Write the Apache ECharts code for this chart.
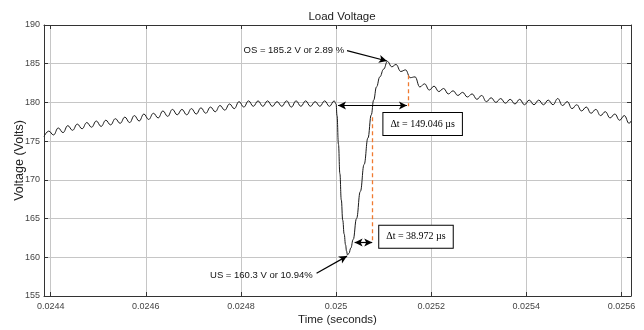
<!DOCTYPE html>
<html>
<head>
<meta charset="utf-8">
<title>Load Voltage</title>
<script src="https://cdn.jsdelivr.net/npm/echarts@6.0.0/dist/echarts.min.js"></script>
<style>
	html, body { margin: 0; padding: 0; background: #fff; }
	#chart { width: 644px; height: 330px; }
</style>
</head>
<body>
<div id="chart"></div>
<script>
// instant of the load step (s); times below are microseconds from it
const T_STEP = 0.025;

// steady ripple before the step
const beforeUs = [
	-614, -604, -594, -584, -574, -564, -554, -544, -534, -524,
	-514, -504, -494, -484, -474, -464, -454, -444, -434, -424,
	-414, -404, -394, -384, -374, -364, -354, -344, -334, -324,
	-314, -304, -294, -284, -274, -264, -254, -244, -234, -224,
	-214, -204, -194, -184, -174, -164, -154, -144, -134, -124,
	-114, -104, -94, -84, -74, -64, -54, -44, -34, -24,
	-14, -4
];
const beforeV = [
	175.6, 176.3, 175.8, 176.7, 176.1, 177.0, 176.4, 177.2, 176.6, 177.4,
	176.8, 177.6, 176.9, 177.7, 177.1, 177.9, 177.3, 178.1, 177.4, 178.3,
	177.6, 178.5, 177.8, 178.6, 178.0, 178.9, 178.2, 179.1, 178.4, 179.1,
	178.4, 179.2, 178.5, 179.3, 178.6, 179.4, 178.8, 179.6, 179.0, 179.8,
	179.2, 180.1, 179.4, 180.2, 179.5, 180.2, 179.5, 180.2, 179.5, 180.1,
	179.5, 180.2, 179.4, 180.2, 179.5, 180.2, 179.5, 180.1, 179.5, 180.2,
	179.5, 180.2
];

// undershoot and recovery up to the overshoot peak
const stepUs = [0, 2, 5, 8, 11, 14, 17, 20, 22, 24, 27, 31, 36, 43, 51, 59, 67, 74, 79, 85, 92, 100];
const stepV = [179.8, 178.3, 174.6, 170.8, 167.4, 164.8, 163.0, 161.6, 160.8, 160.3, 160.5, 161.2, 162.3, 165.0, 168.5, 172.0, 175.4, 178.4, 180.3, 182.0, 183.3, 184.3];

// ripple settling after the overshoot
const afterUs = [
	108, 117, 126, 136, 146, 156, 166, 176, 186, 196,
	206, 216, 226, 236, 246, 256, 266, 276, 286, 296,
	306, 316, 326, 336, 346, 356, 366, 376, 386, 396,
	406, 416, 426, 436, 446, 456, 466, 476, 486, 496,
	506, 516, 526, 536, 546, 556, 566, 576, 586, 596,
	606, 616, 620
];
const afterV = [
	185.3, 184.6, 184.9, 184.0, 184.2, 183.2, 183.3, 182.0, 182.4, 181.6,
	182.1, 181.4, 181.8, 181.1, 181.5, 180.9, 181.3, 180.7, 181.1, 180.4,
	180.9, 180.1, 180.6, 180.0, 180.5, 179.9, 180.4, 179.8, 180.4, 179.7,
	180.3, 179.7, 180.3, 179.7, 180.3, 179.7, 180.5, 179.6, 180.1, 179.2,
	179.7, 178.9, 179.4, 178.6, 179.1, 178.3, 178.8, 178.0, 178.5, 177.7,
	178.3, 177.3, 177.6
];

const xTicks = [0.0244, 0.0246, 0.0248, 0.025, 0.0252, 0.0254, 0.0256];
const xRangeUs = [-614, 620];
const yRange = [155, 190];

const toSec = us => T_STEP + us * 1e-6;

const points = [];
[[beforeUs, beforeV], [stepUs, stepV], [afterUs, afterV]].forEach(([ts, vs]) => {
	ts.forEach((t, i) => points.push([toSec(t), vs[i]]));
});

const sans = "'Liberation Sans', Arial, sans-serif";
const serif = "'Liberation Serif', 'Times New Roman', serif";
const frame = '#333';

const arrow = {color: '#000', width: 1.2, type: 'solid'};
const dashed = {color: '#f07a30', width: 1.3, type: [4, 3]};

const tickLabel = {
	fontFamily: sans,
	fontSize: 9,
	color: '#444'
};

const boxLabel = {
	show: true,
	position: 'inside',
	fontFamily: serif,
	fontSize: 10,
	color: '#000',
	backgroundColor: '#fff',
	borderColor: '#000',
	borderWidth: 1,
	padding: [6, 7]
};

const textLabel = {
	show: true,
	position: 'left',
	distance: 0,
	fontFamily: sans,
	fontSize: 9.5,
	color: '#111'
};

const chart = echarts.init(document.getElementById('chart'), null, {renderer: 'canvas'});

chart.setOption({
	animation: false,
	backgroundColor: '#fff',
	title: {
		text: 'Load Voltage',
		left: 337,
		top: 6,
		textAlign: 'center',
		textStyle: {fontFamily: sans, fontSize: 11.5, fontWeight: 'normal', color: '#222'}
	},
	grid: {left: 44, right: 13, top: 25, bottom: 34, outerBoundsMode: 'none'},
	xAxis: [{
		type: 'value',
		min: toSec(xRangeUs[0]),
		max: toSec(xRangeUs[1]),
		name: 'Time (seconds)',
		nameLocation: 'middle',
		nameGap: 18,
		nameMoveOverlap: false,
		nameTextStyle: {fontFamily: sans, fontSize: 11.5, color: '#222'},
		axisLine: {show: true, onZero: false, lineStyle: {color: frame}},
		axisTick: {show: true, inside: true, length: 4, customValues: xTicks, lineStyle: {color: frame}},
		axisLabel: Object.assign({
			customValues: xTicks,
			margin: 6,
			formatter: v => String(parseFloat(v.toFixed(5)))
		}, tickLabel),
		splitLine: {show: true, lineStyle: {color: '#c6c6c6'}}
	}, {
		type: 'value',
		position: 'top',
		min: toSec(xRangeUs[0]),
		max: toSec(xRangeUs[1]),
		axisLine: {show: true, onZero: false, lineStyle: {color: frame}},
		axisTick: {show: true, inside: true, length: 4, customValues: xTicks, lineStyle: {color: frame}},
		axisLabel: {show: false, customValues: xTicks},
		splitLine: {show: false}
	}],
	yAxis: [{
		type: 'value',
		min: yRange[0],
		max: yRange[1],
		interval: 5,
		name: 'Voltage (Volts)',
		nameLocation: 'middle',
		nameGap: 18,
		nameMoveOverlap: false,
		nameTextStyle: {fontFamily: sans, fontSize: 12.5, color: '#222'},
		axisLine: {show: true, onZero: false, lineStyle: {color: frame}},
		axisTick: {show: true, inside: true, length: 4, lineStyle: {color: frame}},
		axisLabel: Object.assign({margin: 4}, tickLabel),
		splitLine: {show: true, lineStyle: {color: '#c6c6c6'}}
	}, {
		type: 'value',
		position: 'right',
		min: yRange[0],
		max: yRange[1],
		interval: 5,
		axisLine: {show: true, onZero: false, lineStyle: {color: frame}},
		axisTick: {show: true, inside: true, length: 4, lineStyle: {color: frame}},
		axisLabel: {show: false},
		splitLine: {show: false}
	}],
	series: [{
		type: 'line',
		data: points,
		showSymbol: false,
		smooth: 0.45,
		smoothMonotone: 'x',
		lineStyle: {color: '#1a1a1a', width: 1},
		silent: true,
		markLine: {
			silent: true,
			animation: false,
			label: {show: false},
			symbolSize: [6, 8],
			data: [
				// OS pointer
				[{coord: [toSec(23), 186.7], symbol: 'none', lineStyle: arrow}, {coord: [toSec(107), 185.35], symbol: 'arrow'}],
				// US pointer
				[{coord: [toSec(-41), 157.95], symbol: 'none', lineStyle: arrow}, {coord: [toSec(23), 160.15], symbol: 'arrow'}],
				// delta t = 149.046 us
				[{coord: [toSec(4), 179.6], symbol: 'arrow', lineStyle: arrow}, {coord: [toSec(149), 179.6], symbol: 'arrow'}],
				// delta t = 38.972 us
				[{coord: [toSec(39), 161.9], symbol: 'arrow', lineStyle: arrow}, {coord: [toSec(76), 161.9], symbol: 'arrow'}],
				// orange markers
				[{coord: [toSec(77), 178.1], symbol: 'none', lineStyle: dashed}, {coord: [toSec(77), 161.8], symbol: 'none'}],
				[{coord: [toSec(151), 183.5], symbol: 'none', lineStyle: dashed}, {coord: [toSec(151), 179.5], symbol: 'none'}]
			]
		},
		markPoint: {
			silent: true,
			animation: false,
			symbol: 'circle',
			symbolSize: 1,
			itemStyle: {color: 'rgba(0,0,0,0)'},
			data: [
				{coord: [toSec(18), 186.7], label: Object.assign({}, textLabel, {formatter: 'OS = 185.2 V or 2.89 %'})},
				{coord: [toSec(-48), 157.7], label: Object.assign({}, textLabel, {formatter: 'US = 160.3 V or 10.94%'})},
				{coord: [toSec(182), 177.2], label: Object.assign({}, boxLabel, {formatter: 'Δt = 149.046 µs'})},
				{coord: [toSec(168), 162.65], label: Object.assign({}, boxLabel, {formatter: 'Δt = 38.972 µs'})}
			]
		}
	}]
});
</script>
</body>
</html>
